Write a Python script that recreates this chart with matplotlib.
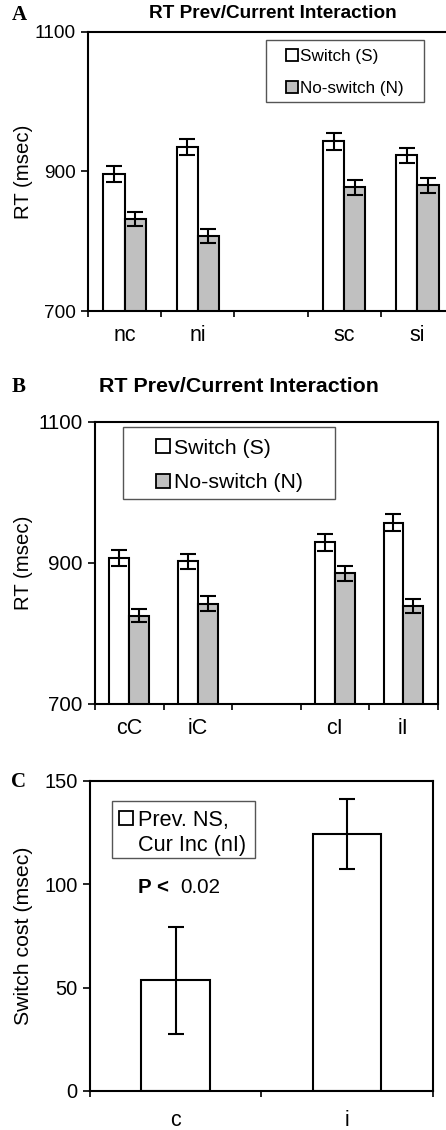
import matplotlib.pyplot as plt
from matplotlib.patches import Rectangle
import numpy as np

plt.rcParams['font.family'] = ['Liberation Sans', 'DejaVu Sans']

# Panel A: previous trial (n/s) x current congruency (c/i)
cats_a = ['nc', 'ni', '', 'sc', 'si']
sw_a = [896, 935, np.nan, 943, 923]
sw_a_err = [11.5, 11.7, 0, 12, 11]
ns_a = [832, 808, np.nan, 877, 880]
ns_a_err = [10, 10, 0, 11, 11]

# Panel B: previous congruency x current congruency
cats_b = ['cC', 'iC', '', 'cI', 'iI']
sw_b = [907, 902, np.nan, 929, 957]
sw_b_err = [11.3, 11, 0, 11.8, 12]
ns_b = [825, 842, np.nan, 885, 838]
ns_b_err = [9.7, 10.6, 0, 11, 10]

# Panel C: switch cost by current congruency
cats_c = ['c', 'i']
cost_c = [53.5, 124.5]
cost_c_err = [26, 17]

legend_labels = ['Switch (S)', 'No-switch (N)']
legend_c_lines = ['Prev. NS,', 'Cur Inc (nI)']

GREY = '#c0c0c0'
W, H = 446, 1130
fig = plt.figure(figsize=(W / 100, H / 100), dpi=100)


def fx(x):
    return x / W


def fy(y):
    return 1 - y / H


def px_axes(left, right, top, bottom):
    return fig.add_axes([fx(left), fy(bottom), (right - left) / W, (bottom - top) / H])


def style_axes(ax, cats, ytick_fs, xpad):
    n = len(cats)
    x = np.arange(n)
    ax.set_xlim(-0.5, n - 0.5)
    ax.set_xticks(np.arange(n + 1) - 0.5)
    ax.set_xticklabels([])
    ax.set_xticks(x, minor=True)
    ax.set_xticklabels(cats, minor=True, fontsize=15.5)
    ax.tick_params(axis='x', which='major', direction='out', length=4, width=1.2)
    ax.tick_params(axis='x', which='minor', length=0, pad=xpad)
    ax.tick_params(axis='y', direction='out', length=5, width=1.2, labelsize=ytick_fs, pad=4)
    for s in ax.spines.values():
        s.set_linewidth(1.5)


def grouped(ax, cats, sw, sw_err, ns, ns_err, ytick_fs):
    x = np.arange(len(cats))
    ekw = dict(elinewidth=1.5, capthick=1.5, ecolor='black')
    ax.bar(x - 0.145, sw, 0.29, color='white', edgecolor='black', linewidth=1.5,
           yerr=sw_err, capsize=6, error_kw=ekw, zorder=2)
    ax.bar(x + 0.145, ns, 0.29, color=GREY, edgecolor='black', linewidth=1.5,
           yerr=ns_err, capsize=6, error_kw=ekw, zorder=2)
    ax.set_ylim(700, 1100)
    ax.set_yticks([700, 900, 1100])
    ax.set_ylabel('RT (msec)', fontsize=14.7)
    style_axes(ax, cats, ytick_fs, 10)


def key_box(x0, y0, x1, y1):
    fig.add_artist(Rectangle((fx(x0), fy(y1)), (x1 - x0) / W, (y1 - y0) / H,
                             transform=fig.transFigure, facecolor='white',
                             edgecolor='#555555', linewidth=1.0, zorder=3))


def key_swatch(x0, yc, size, color):
    fig.add_artist(Rectangle((fx(x0), fy(yc + size / 2)), size / W, size / H,
                             transform=fig.transFigure, facecolor=color,
                             edgecolor='black', linewidth=1.3, zorder=4))


def key_text(x, yc, s, fs):
    fig.text(fx(x), fy(yc), s, ha='left', va='center_baseline', fontsize=fs, zorder=5)


# ---- A ----
ax_a = px_axes(88, 454, 31.7, 311)
grouped(ax_a, cats_a, sw_a, sw_a_err, ns_a, ns_a_err, 13.7)
ax_a.yaxis.set_label_coords(-0.150, 0.5)
key_box(266, 40, 424, 102)
for yc, col, lab in zip([55, 87.3], ['white', GREY], legend_labels):
    key_swatch(286, yc, 12, col)
    key_text(300.5, yc, lab, 12.3)
fig.text(fx(273), fy(14), 'RT Prev/Current Interaction', ha='center', va='center',
         fontsize=13.7, fontweight='bold')
fig.text(fx(19), fy(15), 'A', ha='center', va='center', fontsize=15,
         fontweight='bold', family='Liberation Serif')

# ---- B ----
ax_b = px_axes(95, 437.7, 421.7, 703.7)
grouped(ax_b, cats_b, sw_b, sw_b_err, ns_b, ns_b_err, 14.8)
ax_b.yaxis.set_label_coords(-0.181, 0.5)
key_box(123, 427, 335, 498.7)
for yc, col, lab in zip([446, 481], ['white', GREY], legend_labels):
    key_swatch(155.7, yc, 14, col)
    key_text(173.5, yc, lab, 15.3)
fig.text(fx(239), fy(386.7), 'RT Prev/Current Interaction', ha='center', va='center',
         fontsize=15.4, fontweight='bold')
fig.text(fx(18.7), fy(386.7), 'B', ha='center', va='center', fontsize=15,
         fontweight='bold', family='Liberation Serif')

# ---- C ----
ax_c = px_axes(90, 432.7, 781, 1091)
xc = np.arange(len(cats_c))
ax_c.bar(xc, cost_c, 0.4, color='white', edgecolor='black', linewidth=1.5,
         yerr=cost_c_err, capsize=6, error_kw=dict(elinewidth=1.5, capthick=1.5), zorder=2)
ax_c.set_ylim(0, 150)
ax_c.set_yticks([0, 50, 100, 150])
ax_c.set_ylabel('Switch cost (msec)', fontsize=15.3)
style_axes(ax_c, cats_c, 14.4, 14)
ax_c.yaxis.set_label_coords(-0.166, 0.5)

key_box(112.3, 801.3, 255, 857.7)
key_swatch(119, 818.3, 14, 'white')
key_text(137.5, 818.3, legend_c_lines[0], 15.6)
key_text(137.5, 843.3, legend_c_lines[1], 15.6)

fig.text(fx(138.3), fy(885.7), 'P <', ha='left', va='center_baseline', fontsize=14.8,
         fontweight='bold')
fig.text(fx(180), fy(885.7), '0.02', ha='left', va='center_baseline', fontsize=14.8)
fig.text(fx(18.7), fy(781.7), 'C', ha='center', va='center', fontsize=15,
         fontweight='bold', family='Liberation Serif')

fig.savefig('out.png', dpi=100)
